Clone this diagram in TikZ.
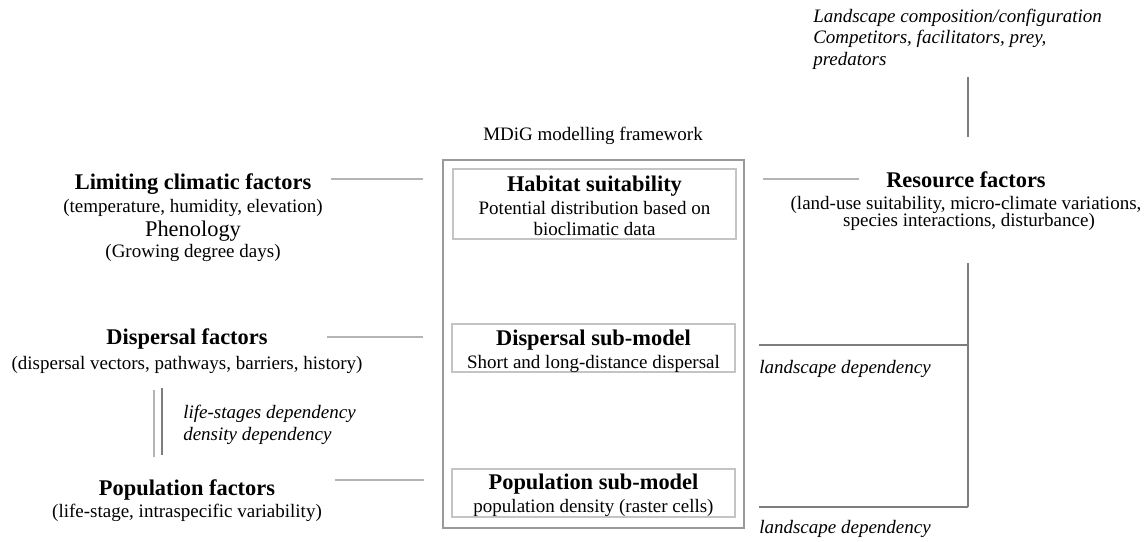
\documentclass[tikz,border=0pt]{standalone}
\usepackage{fontspec}
\setmainfont{Liberation Serif}
\definecolor{boxgray}{HTML}{9A9A9A}
\definecolor{innergray}{HTML}{C4C4C4}
\definecolor{lightline}{HTML}{B4B4B4}
\definecolor{darkline}{HTML}{7E7E7E}
\tikzset{
  reg/.style={font=\fontsize{14.25pt}{17pt}\selectfont, inner sep=0pt, anchor=base},
  big/.style={font=\fontsize{16.8pt}{20pt}\selectfont, inner sep=0pt, anchor=base},
  hd/.style={font=\fontsize{16.8pt}{20pt}\selectfont\bfseries, inner sep=0pt, anchor=base},
  itl/.style={font=\fontsize{14.25pt}{17pt}\selectfont\itshape, inner sep=0pt, anchor=base west},
  outerbox/.style={draw=boxgray, line width=1pt, minimum width=225.75pt, minimum height=276pt, inner sep=0pt},
  subbox/.style={draw=innergray, line width=0.8pt, minimum width=212.25pt, inner sep=0pt},
  lconn/.style={draw=lightline, line width=1pt},
  rconn/.style={draw=darkline, line width=0.8pt},
}
\begin{document}
\begin{tikzpicture}[x=0.75pt, y=-0.75pt]
\useasboundingbox (0,0) rectangle (1146,542);
% central framework
\node[reg] (title) at (593,140) {MDiG modelling framework};
\node[outerbox] (frame) at (593.5,344) {};
\node[subbox, minimum height=52.5pt] (hab) at (594.5,204) {};
\node[subbox, minimum height=36pt] (dsm) at (593.5,348) {};
\node[subbox, minimum height=36pt] (psm) at (593.5,493) {};
\node[hd] (habT) at (594.5,191) {Habitat suitability};
\node[reg] (habA) at (594.5,214) {Potential distribution based on};
\node[reg] (habB) at (594.5,235) {bioclimatic data};
\node[hd] (dsmT) at (593.5,345) {Dispersal sub-model};
\node[reg] (dsmA) at (593.5,368) {Short and long-distance dispersal};
\node[hd] (psmT) at (593.5,489) {Population sub-model};
\node[reg] (psmA) at (593.5,512) {population density (raster cells)};
% left column
\node[hd] (lim) at (193,189) {Limiting climatic factors};
\node[reg] (limA) at (193,212) {(temperature, humidity, elevation)};
\node[big] (phen) at (193,236) {Phenology};
\node[reg] (phenA) at (193,257) {(Growing degree days)};
\node[hd] (disf) at (187,344) {Dispersal factors};
\node[reg] (disfA) at (187,369) {(dispersal vectors, pathways, barriers, history)};
\node[itl] (dep1) at (183,418) {life-stages dependency};
\node[itl] (dep2) at (183,440) {density dependency};
\node[hd] (popf) at (187,495) {Population factors};
\node[reg] (popfA) at (187,517) {(life-stage, intraspecific variability)};
% right column
\node[hd] (res) at (966,187) {Resource factors};
\node[reg] (resA) at (966,209) {(land-use suitability, micro-climate variations,};
\node[reg] (resB) at (969,226) {species interactions, disturbance)};
\node[itl] (land1) at (813,23) {Landscape composition/configuration};
\node[itl] (land2) at (813,44) {Competitors, facilitators, prey,};
\node[itl] (land3) at (813,65) {predators};
\node[itl] (ld1) at (759,373) {landscape dependency};
\node[itl] (ld2) at (759,533) {landscape dependency};
% connector end points
\coordinate (limE) at (331,179);  \coordinate (habW) at (423,179);
\coordinate (habE) at (763,179);  \coordinate (resW) at (859,179);
\coordinate (disfE) at (327,337); \coordinate (dsmW) at (423,337);
\coordinate (popfE) at (335,480); \coordinate (psmW) at (424,480);
\coordinate (landS) at (968,77);  \coordinate (resN) at (968,137);
\coordinate (resS) at (968,263);  \coordinate (corner) at (968,507);
\coordinate (dsmJ) at (968,345);  \coordinate (dsmE) at (759,345);
\coordinate (psmE) at (759,507);
\coordinate (dA) at (154,390); \coordinate (dB) at (154,457);
\coordinate (dC) at (162,388); \coordinate (dD) at (162,455);
% connectors
\draw[lconn] (limE) -- (habW);
\draw[lconn] (habE) -- (resW);
\draw[lconn] (disfE) -- (dsmW);
\draw[lconn] (popfE) -- (psmW);
\draw[rconn] (landS) -- (resN);
\draw[rconn] (resS) -- (corner);
\draw[rconn] (dsmE) -- (dsmJ);
\draw[rconn] (psmE) -- (corner);
\draw[lconn] (dA) -- (dB);
\draw[rconn] (dC) -- (dD);
\end{tikzpicture}
\end{document}
